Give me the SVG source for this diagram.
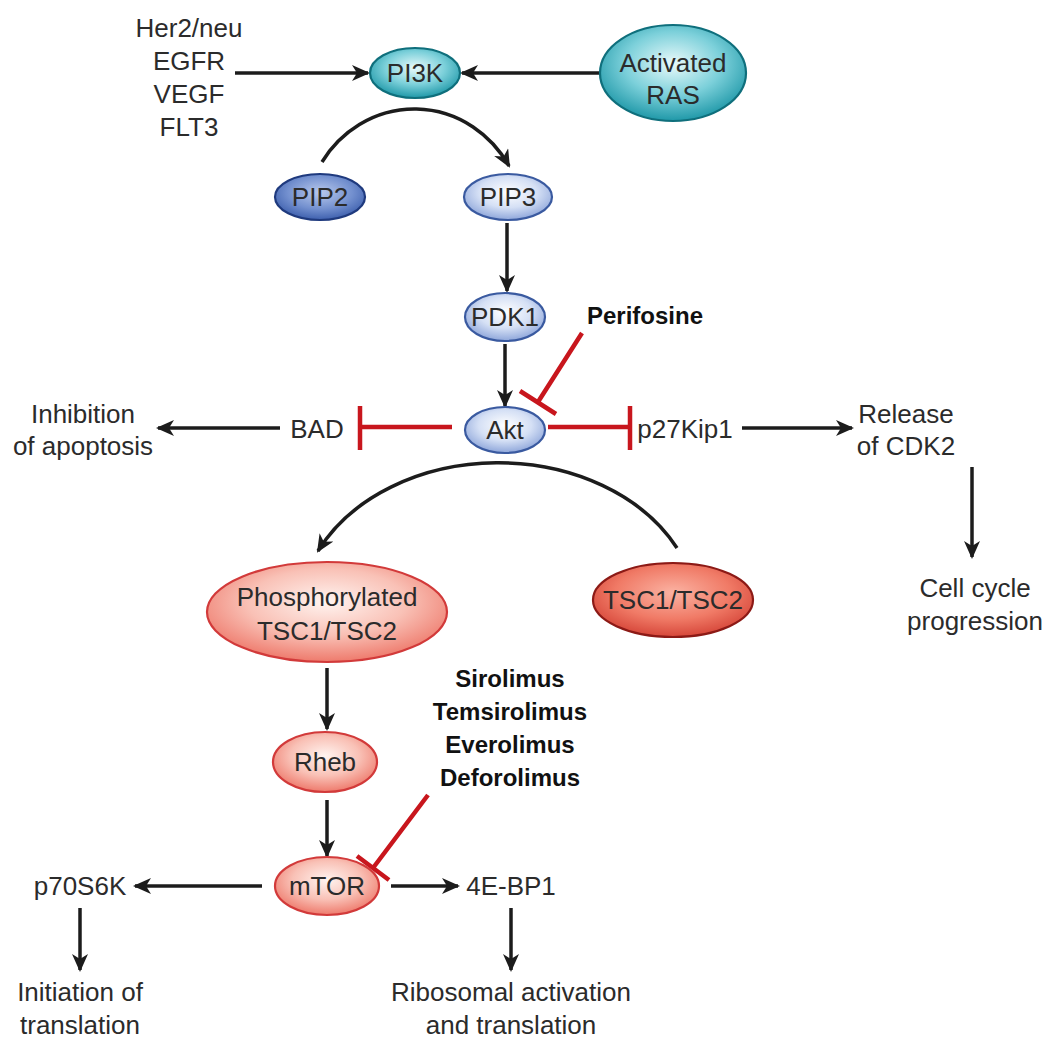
<svg xmlns="http://www.w3.org/2000/svg" width="1047" height="1050" viewBox="0 0 1047 1050">
<style>
text{font-family:"Liberation Sans",Arial,sans-serif;font-size:26px;fill:#2b2b2b;text-anchor:middle}
.drug{font-weight:bold;font-size:24px;fill:#111}
.arr{fill:none;stroke:#1c1c1c;stroke-width:3.5;marker-end:url(#ah)}
.inh{fill:none;stroke:#c8161d;stroke-width:4.5}
.teal{fill:url(#gTeal);stroke:#0f6f7c;stroke-width:2.2}
.lblue{fill:url(#gLBlue);stroke:#3a5aa0;stroke-width:2.2}
.dblue{fill:url(#gDBlue);stroke:#1f3a7e;stroke-width:2.2}
.lred{fill:url(#gLRed);stroke:#d23a3a;stroke-width:2.2}
.dred{fill:url(#gDRed);stroke:#8c1a16;stroke-width:2.2}
</style>
<defs>
<radialGradient id="gTeal" cx="50%" cy="40%" r="60%"><stop offset="0" stop-color="#eafafb"/><stop offset="0.55" stop-color="#7cd0da"/><stop offset="1" stop-color="#1f98a8"/></radialGradient>
<radialGradient id="gLBlue" cx="50%" cy="40%" r="60%"><stop offset="0" stop-color="#ffffff"/><stop offset="0.55" stop-color="#d5e0f5"/><stop offset="1" stop-color="#8ea6da"/></radialGradient>
<radialGradient id="gDBlue" cx="50%" cy="40%" r="60%"><stop offset="0" stop-color="#b9c9ec"/><stop offset="0.6" stop-color="#7390cf"/><stop offset="1" stop-color="#3d5fad"/></radialGradient>
<radialGradient id="gLRed" cx="50%" cy="40%" r="60%"><stop offset="0" stop-color="#fff4f0"/><stop offset="0.55" stop-color="#f9c1b6"/><stop offset="1" stop-color="#ee7a6c"/></radialGradient>
<radialGradient id="gDRed" cx="50%" cy="40%" r="60%"><stop offset="0" stop-color="#fbb3a3"/><stop offset="0.6" stop-color="#f07a66"/><stop offset="1" stop-color="#d6473a"/></radialGradient>
<marker id="ah" markerUnits="userSpaceOnUse" markerWidth="18" markerHeight="16" viewBox="0 0 18 16" refX="16" refY="8" orient="auto"><path d="M0,0 L18,8 L0,16 L5,8 z" fill="#1c1c1c"/></marker>
</defs>

<g id="connectors">
<path class="arr" d="M235,73 H368"/>
<path class="arr" d="M600,73 H462"/>
<path class="arr" d="M322,162 A110,116 0 0 1 509,166"/>
<path class="arr" d="M507,223 V291"/>
<path class="arr" d="M505,344 V406"/>
<path class="arr" d="M280,428 H158"/>
<path class="arr" d="M742,428 H852"/>
<path class="arr" d="M972,467 V557"/>
<path class="arr" d="M677,548 A200,155 0 0 0 318,551"/>
<path class="arr" d="M327,668 V729"/>
<path class="arr" d="M327,800 V856"/>
<path class="arr" d="M262,886 H135"/>
<path class="arr" d="M391,886 H458"/>
<path class="arr" d="M80,908 V970"/>
<path class="arr" d="M511,908 V970"/>
<g id="inhibitors">
<path class="inh" d="M452,427 H360 M360,406 V450"/>
<path class="inh" d="M548,427 H630 M630,406 V450"/>
<path class="inh" d="M582,333 L538,402 M520,391 L556,414"/>
<path class="inh" d="M428,795 L373,868 M357,856 L389,880"/>
</g>
</g>

<g id="receptors"><text x="189" y="37">Her2/neu</text><text x="189" y="70">EGFR</text><text x="189" y="103">VEGF</text><text x="189" y="136">FLT3</text></g>
<g id="PI3K"><ellipse class="teal" cx="415" cy="73" rx="45" ry="25"/><text x="415" y="82">PI3K</text></g>
<g id="RAS"><ellipse class="teal" cx="673" cy="73" rx="73" ry="48"/><text x="673" y="72">Activated</text><text x="673" y="104">RAS</text></g>
<g id="PIP2"><ellipse class="dblue" cx="320" cy="197" rx="45" ry="23"/><text x="320" y="206">PIP2</text></g>
<g id="PIP3"><ellipse class="lblue" cx="508" cy="197" rx="44" ry="23"/><text x="508" y="206">PIP3</text></g>
<g id="PDK1"><ellipse class="lblue" cx="505" cy="317" rx="40" ry="24"/><text x="505" y="326">PDK1</text></g>
<g id="Perifosine"><text class="drug" x="645" y="324">Perifosine</text></g>
<g id="Akt"><ellipse class="lblue" cx="505" cy="430" rx="40" ry="23"/><text x="505" y="439">Akt</text></g>
<g id="BAD"><text x="317" y="438">BAD</text></g>
<g id="apoptosis"><text x="83" y="423">Inhibition</text><text x="83" y="455">of apoptosis</text></g>
<g id="p27Kip1"><text x="685" y="438">p27Kip1</text></g>
<g id="CDK2"><text x="906" y="423">Release</text><text x="906" y="455">of CDK2</text></g>
<g id="cellcycle"><text x="975" y="597">Cell cycle</text><text x="975" y="630">progression</text></g>
<g id="pTSC"><ellipse class="lred" cx="327" cy="612" rx="120" ry="50"/><text x="327" y="606">Phosphorylated</text><text x="327" y="640">TSC1/TSC2</text></g>
<g id="TSC"><ellipse class="dred" cx="673" cy="600" rx="80" ry="37"/><text x="673" y="609">TSC1/TSC2</text></g>
<g id="rapalogs"><text class="drug" x="510" y="687">Sirolimus</text><text class="drug" x="510" y="720">Temsirolimus</text><text class="drug" x="510" y="753">Everolimus</text><text class="drug" x="510" y="786">Deforolimus</text></g>
<g id="Rheb"><ellipse class="lred" cx="325" cy="762" rx="52" ry="30"/><text x="325" y="771">Rheb</text></g>
<g id="mTOR"><ellipse class="lred" cx="327" cy="886" rx="52" ry="29"/><text x="327" y="895">mTOR</text></g>
<g id="p70S6K"><text x="80" y="895">p70S6K</text></g>
<g id="4EBP1"><text x="511" y="895">4E-BP1</text></g>
<g id="initiation"><text x="80" y="1001">Initiation of</text><text x="80" y="1034">translation</text></g>
<g id="ribosomal"><text x="511" y="1001">Ribosomal activation</text><text x="511" y="1034">and translation</text></g>
</svg>
